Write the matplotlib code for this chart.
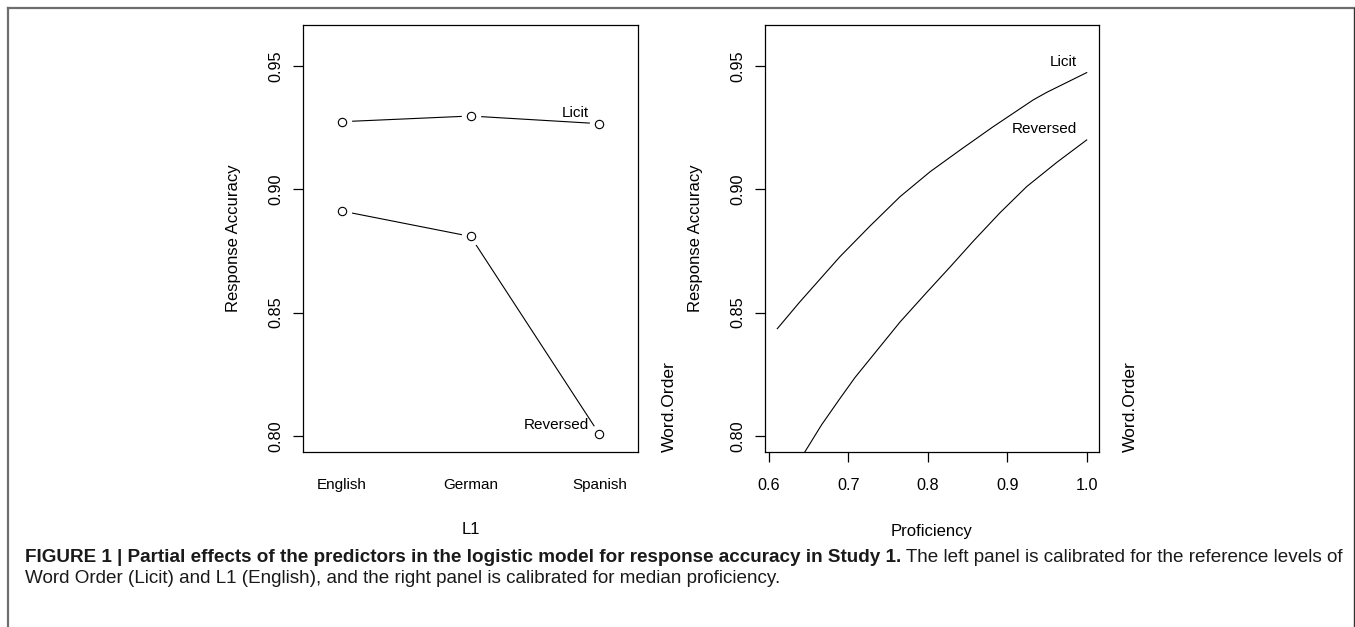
import matplotlib.pyplot as plt
from matplotlib.lines import Line2D

plt.rcParams['font.family'] = ['Liberation Sans', 'DejaVu Sans']

# left panel: L1 x Word.Order
l1_levels = ['English', 'German', 'Spanish']
licit_l1 = [0.9274, 0.9297, 0.9266]
reversed_l1 = [0.8912, 0.8809, 0.8008]

# right panel: Proficiency
prof_licit = [0.6105, 0.6390, 0.6894, 0.7272, 0.765, 0.8028, 0.8406,
              0.8815, 0.9325, 0.9497, 1.0]
acc_licit = [0.8435, 0.8544, 0.8727, 0.8851, 0.8970, 0.9071, 0.9159,
             0.9252, 0.9362, 0.9393, 0.9473]
prof_rev = [0.6453, 0.6664, 0.6894, 0.7083, 0.7272, 0.765, 0.7986,
            0.828, 0.8573, 0.8909, 0.9245, 0.9623, 1.0]
acc_rev = [0.7936, 0.8046, 0.8152, 0.8237, 0.8312, 0.8462, 0.8582,
           0.8685, 0.8790, 0.8905, 0.9011, 0.9109, 0.920]

yticks = [0.80, 0.85, 0.90, 0.95]
ylim = (0.7935, 0.9666)

W, H = 1355, 627
fig = plt.figure(figsize=(W / 100, H / 100), dpi=100)
ax1 = fig.add_axes([303 / W, 1 - 452 / H, 335 / W, 427 / H])
ax2 = fig.add_axes([765 / W, 1 - 452 / H, 334 / W, 427 / H])

for ax in (ax1, ax2):
    ax.set_ylim(ylim)
    ax.set_yticks(yticks)
    ax.set_yticklabels(['%.2f' % v for v in yticks])
    ax.tick_params(axis='y', length=7.2, width=0.9, pad=7, labelsize=11.7,
                   labelrotation=90)
    for t in ax.get_yticklabels():
        t.set_va('center')
    for s in ax.spines.values():
        s.set_linewidth(0.9)
    ax.set_ylabel('Response Accuracy', fontsize=12)
    ax.yaxis.set_label_coords(-0.185, 0.5)
    ax.text(1.095, 0, 'Word.Order', transform=ax.transAxes, rotation=90,
            ha='center', va='bottom', fontsize=12.6)

# left panel
xpos = [1, 2, 3]
ax1.set_xlim(0.7, 3.3)
ax1.set_xticks(xpos)
ax1.set_xticklabels(l1_levels)
ax1.tick_params(axis='x', length=0, pad=18.5, labelsize=11)
for ys in (licit_l1, reversed_l1):
    ax1.plot(xpos, ys, '-', color='black', lw=0.8, zorder=2)
    ax1.plot(xpos, ys, 'o', ms=14, mfc='white', mec='none', zorder=3)
    ax1.plot(xpos, ys, 'o', ms=6, mfc='white', mec='black', mew=0.8, zorder=4)
ax1.text(3 - 0.08, licit_l1[2] + 0.0013, 'Licit', ha='right', va='bottom',
         fontsize=11)
ax1.text(3 - 0.08, reversed_l1[2] + 0.001, 'Reversed', ha='right',
         va='bottom', fontsize=11)
ax1.set_xlabel('L1', fontsize=12, labelpad=22)

# right panel
ax2.set_xlim(0.595, 1.0155)
ax2.set_xticks([0.6, 0.7, 0.8, 0.9, 1.0])
ax2.set_xticklabels(['0.6', '0.7', '0.8', '0.9', '1.0'])
ax2.tick_params(axis='x', length=7.2, width=0.9, pad=11.5, labelsize=11.7)
ax2.plot(prof_licit, acc_licit, color='black', lw=0.8)
ax2.plot(prof_rev, acc_rev, color='black', lw=0.8)
ax2.text(0.988, acc_licit[-1] + 0.0014, 'Licit', ha='right', va='bottom',
         fontsize=11)
ax2.text(0.988, acc_rev[-1] + 0.0017, 'Reversed', ha='right', va='bottom',
         fontsize=11)
ax2.set_xlabel('Proficiency', fontsize=12, labelpad=22)

# outer frame
fig.add_artist(Line2D([8 / W, 1], [1 - 7.5 / H] * 2, color='#6e6e6e', lw=1.6))
fig.add_artist(Line2D([8 / W] * 2, [0, 1 - 7.5 / H], color='#6e6e6e', lw=1.6))
fig.add_artist(Line2D([1353.5 / W] * 2, [0, 1 - 7.5 / H], color='#333333',
                      lw=1.0))

# caption
cap_font = ['Liberation Sans Narrow', 'Liberation Sans', 'DejaVu Sans']
bold_part = ('FIGURE 1 | Partial effects of the predictors in the logistic '
             'model for response accuracy in Study 1.')
rest_part = ' The left panel is calibrated for the reference levels of'
line2 = ('Word Order (Licit) and L1 (English), and the right panel is '
         'calibrated for median proficiency.')
x0 = 25 / W
y1 = 1 - 557 / H
y2 = 1 - 578.5 / H
t1 = fig.text(x0, y1, bold_part, fontsize=13.6, fontweight='bold',
              family=cap_font, va='center', color='#1a1a1a')
fig.canvas.draw()
bb = t1.get_window_extent(fig.canvas.get_renderer())
fig.text(bb.x1 / W, y1, rest_part, fontsize=13.6, family=cap_font,
         va='center', color='#1a1a1a')
fig.text(x0, y2, line2, fontsize=13.6, family=cap_font, va='center',
         color='#1a1a1a')

fig.savefig('out.png', dpi=100)
